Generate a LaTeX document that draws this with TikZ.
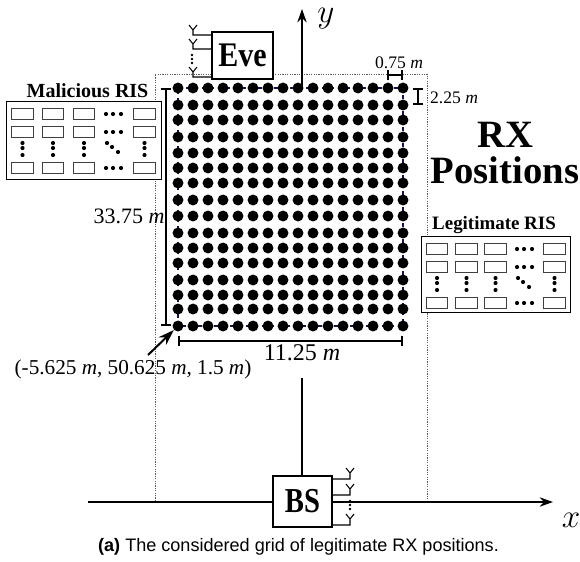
\documentclass[tikz,border=0pt]{standalone}
\usepackage{graphicx}
\usepackage{fontspec}
\setmainfont{Liberation Serif}
\newfontfamily\capfont{Liberation Sans}
\usetikzlibrary{arrows.meta}
\definecolor{gridnavy}{RGB}{20,20,70}
\tikzset{
  x=0.75pt,y=-0.75pt,
  griddot/.style={circle,fill=black,draw=none,inner sep=0pt,minimum size=8.2pt},
  perim/.style={draw=gridnavy,line width=1.8pt,dash pattern=on 3pt off 3pt},
  guide/.style={draw=black!65,line width=0.55pt,dash pattern=on 0.9pt off 0.9pt},
  axisline/.style={draw=black,line width=1.3pt},
  axisarrow/.style={axisline,-{Stealth[length=10pt,width=7pt]}},
  dim/.style={draw=black,line width=1.5pt},
  dimv/.style={dim,{Bar[width=8pt]}-{Bar[width=8pt]}},
  box/.style={draw=black,line width=1.3pt,fill=white,inner sep=0pt},
  feed/.style={draw=black,line width=0.8pt},
  riscell/.style={draw=black!75,line width=0.9pt,fill=white,inner sep=0pt,minimum width=16.2pt,minimum height=8.6pt},
  pip/.style={circle,fill=black,inner sep=0pt,minimum size=3.1pt},
  dimtext/.style={font=\fontsize{16.5pt}{18pt}\selectfont,inner sep=0pt},
  smalltext/.style={font=\fontsize{13.2pt}{15pt}\selectfont,inner sep=0pt},
  ristitle/.style={font=\fontsize{15pt}{17pt}\selectfont\bfseries,inner sep=0pt},
  bigtitle/.style={font=\fontsize{29pt}{30pt}\selectfont\bfseries,inner sep=0pt,align=center},
}
% panel name, left, top, width, height, column centres, first horizontal pip offset
\newcommand{\rispanel}[7]{%
  \node[box,line width=1pt,anchor=north west,minimum width=#4*0.75pt,minimum height=#5*0.75pt] (#1) at (#2,#3) {};
  \foreach \cx [count=\ci] in {#6}{
    \foreach \cy [count=\cj] in {13,31,67}{
      \node[riscell] (#1-c\ci-\cj) at (#2+\cx,#3+\cy) {};
    }
    \foreach \py [count=\pk] in {42,47,54}{
      \node[pip] (#1-v\ci-\pk) at (#2+\cx,#3+\py) {};
    }
  }
  \foreach \cy [count=\cj] in {13,31,67}{
    \foreach \px [count=\pk] in {0,7,15}{
      \node[pip] (#1-h\cj-\pk) at (#2+#7+\px,#3+\cy) {};
    }
  }
  \node[pip] (#1-d1) at (#2+#7+1,#3+42) {};
  \node[pip] (#1-d2) at (#2+#7+6,#3+46) {};
  \node[pip] (#1-d3) at (#2+#7+12,#3+51) {};
}
\begin{document}
\begin{tikzpicture}
\useasboundingbox (0,0) rectangle (580,561);

% dotted frame
\coordinate (fa) at (155,74);
\coordinate (fb) at (427,74);
\coordinate (fc) at (427,501);
\coordinate (fd) at (155,501);
\draw[guide] (fd) -- (fa) -- (fb) -- (fc);

% axes
\node[box,minimum width=44.25pt,minimum height=38.25pt] (bs) at (302.5,501.5) {\scalebox{1}[1.22]{\fontsize{21.5pt}{22pt}\selectfont\bfseries BS}};
\coordinate (xs) at (88,502);
\coordinate (xe) at (553,502);
\coordinate (yt) at (302,9);
\coordinate (yg) at (302,378);
\draw[axisline] (xs) -- (bs.west |- xs);
\draw[axisarrow] (bs.east |- xe) -- (xe);
\draw[axisline] (bs.north -| yg) -- (yg);
\node[inner sep=0pt,font=\fontsize{23pt}{24pt}\selectfont] (xl) at (571,520) {$x$};
\node[inner sep=0pt,font=\fontsize{23pt}{24pt}\selectfont] (yl) at (326,19) {$y$};

% perimeter lines
\coordinate (p1) at (178,88);
\coordinate (p2) at (403,88);
\coordinate (p3) at (403,326);
\coordinate (p4) at (178,326);
\draw[perim] (p1) -- (p2) -- (p3) -- (p4) -- cycle;

% grid of positions
\foreach \yy [count=\j] in {88,105,120,137,153,168,183,200,216,233,248,263,280,295,309,326}{
  \foreach \i in {0,...,15}{
    \node[griddot] (d-\i-\j) at (178+15*\i,\yy) {};
  }
}
\draw[axisarrow] (d-8-1.center -| yg) -- (yt);

% Eve
\node[box,minimum width=45.75pt,minimum height=35.25pt] (eve) at (242.5,55.5) {\scalebox{1}[1.15]{\fontsize{22.5pt}{24pt}\selectfont\bfseries Eve}};
\foreach \n/\ay in {1/35,2/49,3/77}{
  \coordinate (ea\n) at (193,\ay);
  \draw[feed] (eve.west |- ea\n) -- (ea\n) -- ++(0,-5) -- ++(-4,-5) ++(4,5) -- ++(4,-5);
}
\node[pip,minimum size=2pt] (ed1) at (192,55) {};
\node[pip,minimum size=2pt] (ed2) at (192,59) {};
\node[pip,minimum size=2pt] (ed3) at (192,63) {};

% BS antennas
\foreach \n/\ay in {1/479,2/495,3/525}{
  \coordinate (ba\n) at (350,\ay);
  \draw[feed] (bs.east |- ba\n) -- (ba\n) -- ++(0,-6) -- ++(-4,-5) ++(4,5) -- ++(4,-5);
}
\node[pip,minimum size=2pt,fill=black] (bd1) at (350,501) {};
\node[pip,minimum size=2pt,fill=black] (bd2) at (350,505) {};
\node[pip,minimum size=2pt,fill=black] (bd3) at (350,509) {};

% RIS panels
\rispanel{mal}{6}{101}{155}{78}{16.5,47,78,138.5}{100}
\rispanel{leg}{421}{236}{149}{76}{16,45.5,74.5,133.5}{96}
\node[ristitle] (malt) at (87.5,91) {Malicious RIS};
\node[ristitle,font=\fontsize{14.2pt}{17pt}\selectfont\bfseries] (legt) at (494,225) {Legitimate RIS};

% big label
\node[bigtitle] (rxt) at (505,153) {RX\\[-3pt]Positions};

% dimensions
\coordinate (w1) at (387,75); \coordinate (w2) at (403,75);
\draw[dimv] (w1) -- (w2);
\node[smalltext] (wl) at (399,63) {0.75 {\itshape m}};
\coordinate (h1) at (418,88); \coordinate (h2) at (418,105);
\draw[dimv] (h1) -- (h2);
\node[smalltext] (hl) at (454,98) {2.25 {\itshape m}};
\coordinate (v1) at (166,88); \coordinate (v2) at (166,326);
\draw[dimv] (v1) -- (v2);
\node[dimtext] (vl) at (129,216) {33.75 {\itshape m}};
\coordinate (b1) at (178,341); \coordinate (b2) at (403,341);
\draw[dimv] (b1) -- (b2);
\node[dimtext,font=\fontsize{18pt}{20pt}\selectfont] (bl) at (302,353) {11.25 {\itshape m}};
\node[dimtext,font=\fontsize{15.9pt}{18pt}\selectfont] (cl) at (133,369) {(-5.625 {\itshape m}, 50.625 {\itshape m}, 1.5 {\itshape m})};
\coordinate (ast) at (148,355);
\draw[draw=black,line width=1.5pt,-{Stealth[length=12pt,width=8pt]}] (ast) -- (d-0-16);

% caption
\node[inner sep=0pt,font=\capfont\fontsize{13.55pt}{15pt}\selectfont] (cap) at (298.5,547) {\textbf{(a)} The considered grid of legitimate RX positions.};
\end{tikzpicture}
\end{document}
